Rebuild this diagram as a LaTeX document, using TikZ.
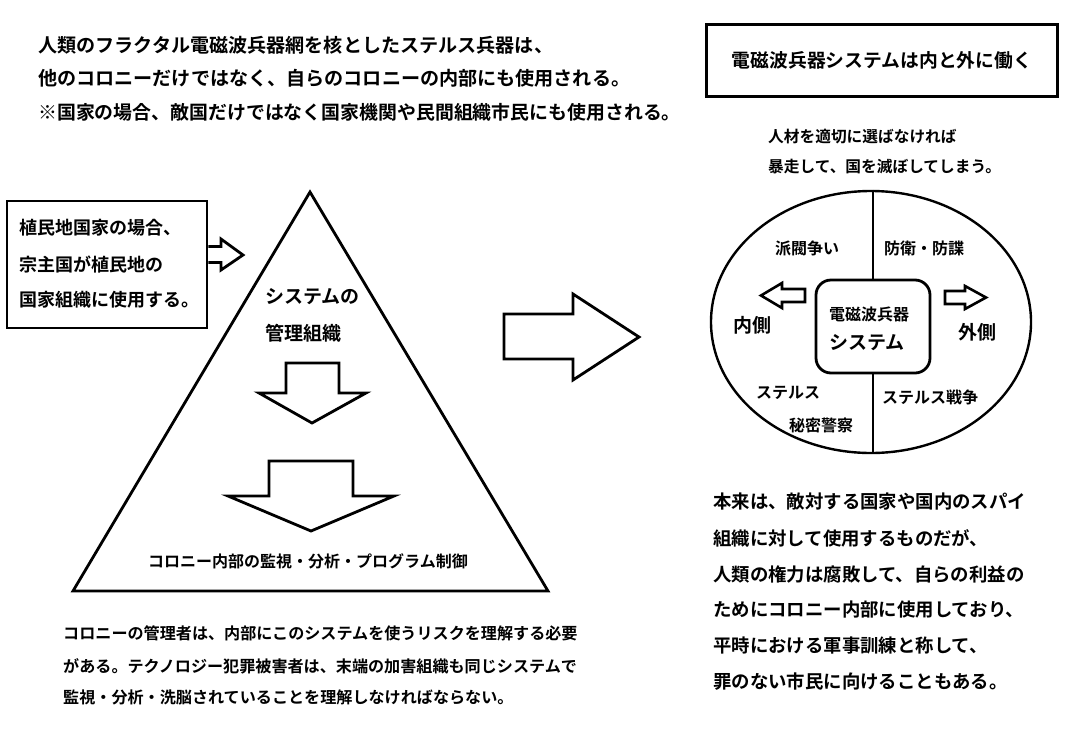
\documentclass[tikz,border=0pt]{standalone}
\usepackage{fontspec}
\usetikzlibrary{shapes.geometric}
\setmainfont{Noto Sans CJK JP}[BoldFont={Noto Sans CJK JP Bold}]
\newcommand{\fsz}[1]{\fontsize{#1}{#1}\selectfont\bfseries}
\begin{document}
\begin{tikzpicture}[x=1pt,y=-1pt,
  txt/.style={anchor=west,inner sep=0pt,font=\fsz{19.1}},
  mid/.style={inner sep=0pt,font=\fsz{16}},
  stxt/.style={anchor=west,inner sep=0pt,font=\fsz{16.1}},
  shape line/.style={line width=2.8pt,line join=miter},
  thin line/.style={line width=2.4pt}]
\useasboundingbox[fill=white] (0,0) rectangle (1092,745);

% top-left text
\node[txt] (t1) at (38,45) {人類のフラクタル電磁波兵器網を核としたステルス兵器は、};
\node[txt] (t2) at (38,78) {他のコロニーだけではなく、自らのコロニーの内部にも使用される。};
\node[txt,font=\fsz{18.9}] (t3) at (38,112) {※国家の場合、敵国だけではなく国家機関や民間組織市民にも使用される。};

% left box
\node[draw,shape line,minimum width=200pt,minimum height=127pt,inner sep=0pt] (lbox) at (107,264.5) {};
\node[txt,font=\fsz{18}] (l1) at (19,228) {植民地国家の場合、};
\node[txt,font=\fsz{18}] (l2) at (19,265) {宗主国が植民地の};
\node[txt,font=\fsz{18}] (l3) at (19,300) {国家組織に使用する。};
% small arrow from box
\draw[shape line] (lbox.east |- 0,246.5) -- (221,246.5) -- (221,239) -- (243,255) -- (221,270) -- (221,262.5) -- (lbox.east |- 0,262.5);

% triangle
\draw[shape line] (310,192) -- (548,591) -- (73,591) -- cycle;
\node[txt,font=\fsz{19}] (s1) at (265,297) {システムの};
\node[txt,font=\fsz{19}] (s2) at (265,333) {管理組織};
\draw[shape line] (286,363) -- (339,363) -- (339,393) -- (366,393) -- (312,423) -- (259,393) -- (286,393) -- cycle;
\draw[shape line] (269,461) -- (353,461) -- (353,496) -- (394,496) -- (311,531) -- (228,496) -- (269,496) -- cycle;
\node[mid] (s3) at (308,561) {コロニー内部の監視・分析・プログラム制御};

% bottom-left text
\node[stxt] (b1) at (63,633) {コロニーの管理者は、内部にこのシステムを使うリスクを理解する必要};
\node[stxt] (b2) at (63,666) {がある。テクノロジー犯罪被害者は、末端の加害組織も同じシステムで};
\node[stxt] (b3) at (63,697) {監視・分析・洗脳されていることを理解しなければならない。};

% big arrow
\draw[shape line] (504,314) -- (573,314) -- (573,294) -- (639,337) -- (573,380) -- (573,359) -- (504,359) -- cycle;

% title box
\node[draw,shape line,minimum width=351pt,minimum height=72pt,inner sep=0pt,font=\fsz{18.8}] (title) at (882,60.5) {電磁波兵器システムは内と外に働く};

\node[txt,font=\fsz{15.7}] (r1) at (768,137) {人材を適切に選ばなければ};
\node[txt,font=\fsz{15.7}] (r2) at (768,167) {暴走して、国を滅ぼしてしまう。};

% ellipse
\node[draw,thin line,ellipse,minimum width=320pt,minimum height=262pt,inner sep=0pt] (ell) at (871,322) {};
\node[draw,shape line,rounded corners=15pt,minimum width=114pt,minimum height=93pt,inner sep=0pt] (core) at (873,326.5) {};
\draw[thin line] (ell.north -| core.north) -- (core.north);
\draw[thin line] (core.south) -- (ell.south -| core.south);
\node[mid] (c1) at (869,314) {電磁波兵器};
\node[inner sep=0pt,font=\fsz{19}] (c2) at (867,343) {システム};

% inner arrows
\draw[shape line,line width=2.6pt] (805,289) -- (782,289) -- (782,283) -- (761,295.5) -- (782,308) -- (782,302) -- (805,302) -- cycle;
\draw[shape line,line width=2.6pt] (945,291) -- (965,291) -- (965,286) -- (986,297.5) -- (965,309) -- (965,304) -- (945,304) -- cycle;
\node[inner sep=0pt,font=\fsz{19}] (in) at (752,325) {内側};
\node[inner sep=0pt,font=\fsz{19}] (out) at (977,332) {外側};

\node[mid] (q1) at (807,248) {派閥争い};
\node[mid] (q2) at (924,248) {防衛・防諜};
\node[mid] (q3) at (788,393) {ステルス};
\node[mid] (q4) at (821,425) {秘密警察};
\node[mid] (q5) at (930,397) {ステルス戦争};

% bottom-right text
\node[txt,font=\fsz{18.4}] (p1) at (713,502) {本来は、敵対する国家や国内のスパイ};
\node[txt,font=\fsz{18.4}] (p2) at (713,538) {組織に対して使用するものだが、};
\node[txt,font=\fsz{18.4}] (p3) at (713,574) {人類の権力は腐敗して、自らの利益の};
\node[txt,font=\fsz{18.4}] (p4) at (713,610) {ためにコロニー内部に使用しており、};
\node[txt,font=\fsz{18.4}] (p5) at (713,646) {平時における軍事訓練と称して、};
\node[txt,font=\fsz{18.4}] (p6) at (713,682) {罪のない市民に向けることもある。};
\end{tikzpicture}
\end{document}
